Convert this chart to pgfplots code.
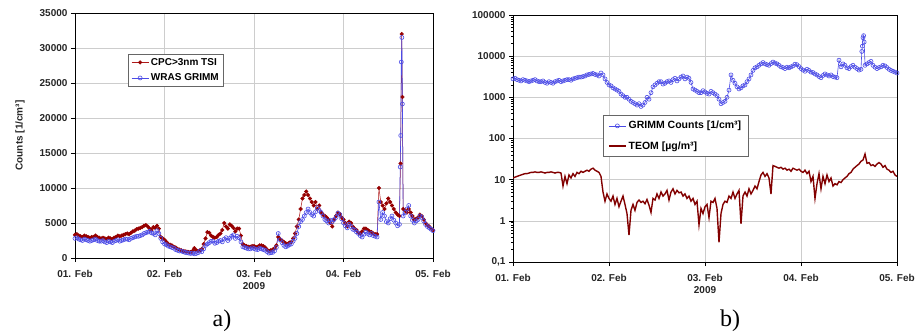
\documentclass[border=0pt]{standalone}
\usepackage{pgfplots}
\pgfplotsset{compat=1.18}
\usepackage{pgfplotstable}
\usepackage{fontspec}
\setmainfont{Liberation Serif}
\newfontfamily\arial{Liberation Sans}
\definecolor{cpcred}{RGB}{175,25,25}
\definecolor{cpcfill}{RGB}{150,0,0}
\definecolor{grimmblue}{RGB}{75,75,230}
\definecolor{teomred}{RGB}{130,0,0}
\definecolor{gridgray}{RGB}{205,205,205}

% WRAS / GRIMM counts [1/cm3], time in hours from 01 Feb 00:00
\pgfplotstableread[row sep=\\]{
h v\\
0 2800\\ 0.5 2900\\ 1 2700\\ 1.5 2600\\ 2 2500\\ 2.5 2700\\ 3 2600\\ 3.5 2500\\ 4 2400\\ 4.5 2500\\
5 2600\\ 5.5 2700\\ 6 2500\\ 6.5 2400\\ 7 2400\\ 7.5 2500\\ 8 2300\\ 8.5 2200\\ 9 2400\\ 9.5 2300\\
10 2200\\ 10.5 2400\\ 11 2500\\ 11.5 2600\\ 12 2400\\ 12.5 2500\\ 13 2600\\ 13.5 2700\\ 14 2700\\ 14.5 2600\\
15 2800\\ 15.5 2900\\ 16 3000\\ 16.5 3100\\ 17 3100\\ 17.5 3200\\ 18 3300\\ 18.5 3500\\ 19 3600\\ 19.5 3700\\
20 3800\\ 20.5 3600\\ 21 3500\\ 21.5 3300\\ 22 3900\\ 22.5 3500\\ 23 2800\\ 23.5 2300\\ 24 2000\\ 24.5 1900\\
25 1700\\ 25.5 1600\\ 26 1500\\ 26.5 1400\\ 27 1200\\ 27.5 1100\\ 28 1000\\ 28.5 1000\\ 29 900\\ 29.5 800\\
30 750\\ 30.5 700\\ 31 650\\ 31.5 700\\ 32 600\\ 32.5 650\\ 33 750\\ 33.5 1000\\ 34 900\\ 34.5 1300\\
35 1800\\ 35.5 2000\\ 36 2200\\ 36.5 2400\\ 37 2400\\ 37.5 2100\\ 38 2200\\ 38.5 2400\\ 39 2500\\ 39.5 2300\\
40 2700\\ 40.5 2900\\ 41 2500\\ 41.5 2800\\ 42 3100\\ 42.5 3300\\ 43 2800\\ 43.5 3100\\ 44 2900\\ 44.5 2300\\
45 1600\\ 45.5 1500\\ 46 1400\\ 46.5 1300\\ 47 1300\\ 47.5 1450\\ 48 1350\\ 48.5 1250\\ 49 1200\\ 49.5 1400\\
50 1300\\ 50.5 1200\\ 51 1100\\ 51.5 900\\ 52 700\\ 52.5 750\\ 53 800\\ 53.5 1000\\ 54 1500\\ 54.5 3500\\
55 2600\\ 55.5 2200\\ 56 1800\\ 56.5 1600\\ 57 1700\\ 57.5 1900\\ 58 2000\\ 58.5 2400\\ 59 2800\\ 59.5 3500\\
60 4500\\ 60.5 5200\\ 61 5500\\ 61.5 6000\\ 62 6500\\ 62.5 7000\\ 63 6500\\ 63.5 6200\\ 64 6000\\ 64.5 6600\\
65 7200\\ 65.5 6800\\ 66 6500\\ 66.5 6000\\ 67 5500\\ 67.5 5300\\ 68 5000\\ 68.5 5400\\ 69 5200\\ 69.5 5500\\
70 5800\\ 70.5 6400\\ 71 6200\\ 71.5 5600\\ 72 5000\\ 72.5 4600\\ 73 4300\\ 73.5 4800\\ 74 4500\\ 74.5 4100\\
75 4000\\ 75.5 3700\\ 76 3500\\ 76.5 3200\\ 77 3000\\ 77.5 3400\\ 78 3700\\ 78.5 3500\\ 79 3300\\ 79.5 3500\\
80 3200\\ 80.5 3100\\ 81 3000\\ 81.5 8000\\ 82 5500\\ 82.5 6500\\ 83 6000\\ 83.5 5200\\ 84 5000\\ 84.5 5600\\
85 6000\\ 85.5 5400\\ 86 5000\\ 86.5 4600\\ 87 4800\\ 87.2 13000\\ 87.35 17500\\ 87.5 28000\\ 87.65 31500\\ 87.8 22000\\
88 6000\\ 88.5 6500\\ 89 7000\\ 89.5 7500\\ 90 6000\\ 90.5 5400\\ 91 5000\\ 91.5 5300\\ 92 5500\\ 92.5 6000\\
93 5800\\ 93.5 5300\\ 94 4800\\ 94.5 4500\\ 95 4300\\ 95.5 4100\\ 96 3900\\
}\bluetab

% CPC > 3 nm TSI counts [1/cm3]
\pgfplotstableread[row sep=\\]{
h v\\
0 3300\\ 0.5 3400\\ 1 3200\\ 1.5 3100\\ 2 3000\\ 2.5 3200\\ 3 3100\\ 3.5 3000\\ 4 2900\\ 4.5 3000\\
5 3000\\ 5.5 3200\\ 6 3000\\ 6.5 2900\\ 7 2800\\ 7.5 2900\\ 8 2800\\ 8.5 2700\\ 9 2900\\ 9.5 2800\\
10 2700\\ 10.5 2900\\ 11 3000\\ 11.5 3200\\ 12 3100\\ 12.5 3200\\ 13 3300\\ 13.5 3400\\ 14 3500\\ 14.5 3400\\
15 3600\\ 15.5 3800\\ 16 3900\\ 16.5 4100\\ 17 4200\\ 17.5 4300\\ 18 4400\\ 18.5 4600\\ 19 4700\\ 19.5 4500\\
20 4200\\ 20.5 4000\\ 21 4400\\ 21.5 4300\\ 22 4600\\ 22.5 4200\\ 23 3000\\ 23.5 2800\\ 24 2600\\ 24.5 2300\\
25 2000\\ 25.5 1900\\ 26 1800\\ 26.5 1600\\ 27 1500\\ 27.5 1300\\ 28 1200\\ 28.5 1100\\ 29 1000\\ 29.5 950\\
30 900\\ 30.5 850\\ 31 850\\ 31.5 1000\\ 32 1400\\ 32.5 1100\\ 33 1000\\ 33.5 1100\\ 34 1300\\ 34.5 2000\\
35 2800\\ 35.5 3700\\ 36 3600\\ 36.5 3200\\ 37 3000\\ 37.5 2900\\ 38 3000\\ 38.5 3300\\ 39 3500\\ 39.5 4000\\
40 5000\\ 40.5 4500\\ 41 4200\\ 41.5 4800\\ 42 4600\\ 42.5 4300\\ 43 3800\\ 43.5 4200\\ 44 4200\\ 44.5 3200\\
45 2000\\ 45.5 1800\\ 46 1700\\ 46.5 1600\\ 47 1600\\ 47.5 1700\\ 48 1700\\ 48.5 1600\\ 49 1600\\ 49.5 1800\\
50 1800\\ 50.5 1700\\ 51 1500\\ 51.5 1200\\ 52 1000\\ 52.5 1100\\ 53 1200\\ 53.5 1400\\ 54 1800\\ 54.5 3000\\
55 2700\\ 55.5 2500\\ 56 2300\\ 56.5 2100\\ 57 2000\\ 57.5 2200\\ 58 2300\\ 58.5 2800\\ 59 3500\\ 59.5 4500\\
60 5500\\ 60.5 7000\\ 61 8500\\ 61.5 9000\\ 62 9500\\ 62.5 9000\\ 63 8500\\ 63.5 8000\\ 64 7500\\ 64.5 8000\\
65 7000\\ 65.5 7500\\ 66 6500\\ 66.5 6200\\ 67 6000\\ 67.5 5800\\ 68 5500\\ 68.5 5000\\ 69 4500\\ 69.5 5500\\
70 6000\\ 70.5 6500\\ 71 6300\\ 71.5 5800\\ 72 5500\\ 72.5 5000\\ 73 4500\\ 73.5 5200\\ 74 5000\\ 74.5 4500\\
75 4200\\ 75.5 4000\\ 76 3600\\ 76.5 3500\\ 77 3800\\ 77.5 4200\\ 78 4200\\ 78.5 4000\\ 79 3800\\ 79.5 3700\\
80 3500\\ 80.5 3400\\ 81 3400\\ 81.5 10000\\ 82 8000\\ 82.5 7500\\ 83 7000\\ 83.5 7800\\ 84 8500\\ 84.5 8000\\
85 7500\\ 85.5 7000\\ 86 6500\\ 86.5 6200\\ 87 6000\\ 87.3 13500\\ 87.6 32000\\ 87.8 23000\\ 88 7000\\ 88.5 6800\\
89 6500\\ 89.5 7000\\ 90 6500\\ 90.5 6000\\ 91 5500\\ 91.5 5600\\ 92 5800\\ 92.5 6200\\ 93 6000\\ 93.5 5500\\
94 5000\\ 94.5 4700\\ 95 4500\\ 95.5 4200\\ 96 4000\\
}\redtab

% TEOM [ug/m3]
\pgfplotstableread[row sep=\\]{
h v\\
0 11\\ 0.5 11.5\\ 1 12\\ 1.5 12.5\\ 2 13\\ 2.5 13.5\\ 3 14\\ 3.5 14\\ 4 14.5\\ 4.5 15\\
5 15\\ 5.5 15.5\\ 6 15\\ 6.5 15\\ 7 15.5\\ 7.5 15\\ 8 14.5\\ 8.5 15\\ 9 15\\ 9.5 15.5\\
10 15\\ 10.5 14.5\\ 11 15\\ 11.5 15\\ 12 14.5\\ 12.5 7\\ 13 12\\ 13.5 8\\ 14 13\\ 14.5 11\\
15 14\\ 15.5 12\\ 16 15\\ 16.5 14\\ 17 16\\ 17.5 15\\ 18 16\\ 18.5 17\\ 19 16\\ 19.5 18\\
20 19\\ 20.5 17\\ 21 16\\ 21.5 15\\ 22 12\\ 22.5 5\\ 23 3\\ 23.5 4.5\\ 24 3.5\\ 24.5 3\\
25 4\\ 25.5 2.5\\ 26 3.5\\ 26.5 2.2\\ 27 3\\ 27.5 4\\ 28 2.5\\ 28.5 1.5\\ 29 0.45\\ 29.5 1.8\\
30 2.5\\ 30.5 1.8\\ 31 2.8\\ 31.5 3.2\\ 32 2.8\\ 32.5 3\\ 33 2.6\\ 33.5 3.3\\ 34 2.4\\ 34.5 1.6\\
35 3.5\\ 35.5 3.2\\ 36 4.5\\ 36.5 3.5\\ 37 5\\ 37.5 4\\ 38 4.5\\ 38.5 5.5\\ 39 3.2\\ 39.5 5\\
40 6\\ 40.5 4.5\\ 41 5.5\\ 41.5 4.8\\ 42 5\\ 42.5 4\\ 43 4.5\\ 43.5 3.5\\ 44 4\\ 44.5 3\\
45 3.5\\ 45.5 2.5\\ 46 3\\ 46.5 0.8\\ 47 2\\ 47.5 1.5\\ 48 2.2\\ 48.5 2.5\\ 49 1.2\\ 49.5 3\\
50 2.8\\ 50.5 3.5\\ 51 2\\ 51.5 0.3\\ 52 1.5\\ 52.5 2.5\\ 53 3\\ 53.5 2.8\\ 54 4\\ 54.5 3.5\\
55 5\\ 55.5 3.5\\ 56 4.5\\ 56.5 5.5\\ 57 0.85\\ 57.5 4\\ 58 5\\ 58.5 4\\ 59 6\\ 59.5 4.5\\
60 5.5\\ 60.5 7\\ 61 6\\ 61.5 9\\ 62 13\\ 62.5 15\\ 63 12\\ 63.5 14\\ 64 11\\ 64.5 4.5\\
65 22\\ 65.5 21\\ 66 20\\ 66.5 19\\ 67 20\\ 67.5 18\\ 68 19\\ 68.5 17\\ 69 18\\ 69.5 16\\
70 19\\ 70.5 18\\ 71 17\\ 71.5 18\\ 72 16\\ 72.5 15\\ 73 17\\ 73.5 14\\ 74 16\\ 74.5 9\\
75 12\\ 75.5 3.5\\ 76 8\\ 76.5 14\\ 77 6\\ 77.5 12\\ 78 8\\ 78.5 13\\ 79 9\\ 79.5 11\\
80 7\\ 80.5 8\\ 81 7.5\\ 81.5 9\\ 82 8.5\\ 82.5 10\\ 83 11\\ 83.5 12\\ 84 14\\ 84.5 15\\
85 18\\ 85.5 20\\ 86 22\\ 86.5 24\\ 87 28\\ 87.5 30\\ 88 42\\ 88.5 25\\ 89 26\\ 89.5 22\\
90 23\\ 90.5 21\\ 91 24\\ 91.5 26\\ 92 24\\ 92.5 20\\ 93 22\\ 93.5 18\\ 94 17\\ 94.5 15\\
95 16\\ 95.5 13\\ 96 12\\
}\teomtab

\pgfplotsset{
  common/.style={
    scale only axis,
    xmin=0, xmax=96,
    xtick={0,24,48,72,96},
    xticklabels={01. Feb,02. Feb,03. Feb,04. Feb,05. Feb},
    axis line style={black, line width=0.9pt},
    grid=major,
    major grid style={gridgray, line width=0.6pt},
    tick align=outside,
    xtick pos=left, ytick pos=left,
    major tick length=4pt,
    minor tick length=2pt,
    tick style={black, line width=0.6pt},
    ticklabel style={font=\arial\bfseries\fontsize{10}{12}\selectfont, text=black!85},
    xticklabel style={yshift=-5pt},
    /pgf/number format/assume math mode=true,
    /pgf/number format/1000 sep={},
    xlabel={2009},
    xlabel style={font=\arial\bfseries\fontsize{10}{12}\selectfont, text=black!85, yshift=2pt},
    legend cell align=left,
  }
}

\begin{document}
\begin{tikzpicture}
\path[use as bounding box] (0pt,0pt) rectangle (916pt,333pt);

\begin{axis}[common,
  at={(75pt,75pt)}, anchor=south west,
  width=358pt, height=245pt,
  ymin=0, ymax=35000,
  scaled y ticks=false,
  ytick={0,5000,10000,15000,20000,25000,30000,35000},
  ylabel={Counts [1/cm³]},
  ylabel style={font=\arial\bfseries\fontsize{10}{12}\selectfont, text=black!85, yshift=8pt},
  legend style={at={(0.148,0.833)}, anchor=north west,
    font=\arial\bfseries\fontsize{10}{12}\selectfont,
    draw=black!60, line width=0.6pt, fill=white,
    inner xsep=3pt, inner ysep=2pt, row sep=3pt,
    /tikz/every even column/.append style={column sep=2pt}},
]
\addplot[cpcred, line width=0.5pt, mark=*, mark size=1.8pt,
  mark options={fill=cpcfill, draw=cpcfill}] table[x=h,y=v] {\redtab};
\addlegendentry{CPC>3nm TSI}
\addplot[grimmblue, line width=0.6pt, mark=o, mark size=2pt,
  mark options={draw=grimmblue, fill=white, fill opacity=0.6, line width=0.6pt}] table[x=h,y=v] {\bluetab};
\addlegendentry{WRAS GRIMM}
\end{axis}

\begin{axis}[common,
  at={(513pt,71pt)}, anchor=south west,
  width=384pt, height=247pt,
  ymode=log, ymin=0.1, ymax=100000,
  ytick={0.1,1,10,100,1000,10000,100000},
  yticklabels={{0,1},1,10,100,1000,10000,100000},
  minor ytick={0.2,0.3,0.4,0.5,0.6,0.7,0.8,0.9,2,3,4,5,6,7,8,9,20,30,40,50,60,70,80,90,200,300,400,500,600,700,800,900,2000,3000,4000,5000,6000,7000,8000,9000,20000,30000,40000,50000,60000,70000,80000,90000},
  legend style={at={(0.234,0.595)}, anchor=north west,
    font=\arial\bfseries\fontsize{10.5}{12}\selectfont,
    draw=black!60, line width=0.6pt, fill=white,
    inner xsep=5pt, inner ysep=4pt, row sep=7pt,
    /tikz/every even column/.append style={column sep=2pt}},
]
\addplot[grimmblue, line width=0.6pt, mark=o, mark size=2pt,
  mark options={draw=grimmblue, fill=white, fill opacity=0.6, line width=0.6pt}] table[x=h,y=v] {\bluetab};
\addlegendentry{GRIMM Counts [1/cm³]}
\addplot[teomred, line width=1.4pt] table[x=h,y=v] {\teomtab};
\addlegendentry{TEOM [µg/m³]}
\end{axis}

\node[font=\fontsize{24}{24}\selectfont] at (222pt,12pt) {a)};
\node[font=\fontsize{24}{24}\selectfont] at (730pt,12pt) {b)};
\end{tikzpicture}
\end{document}
